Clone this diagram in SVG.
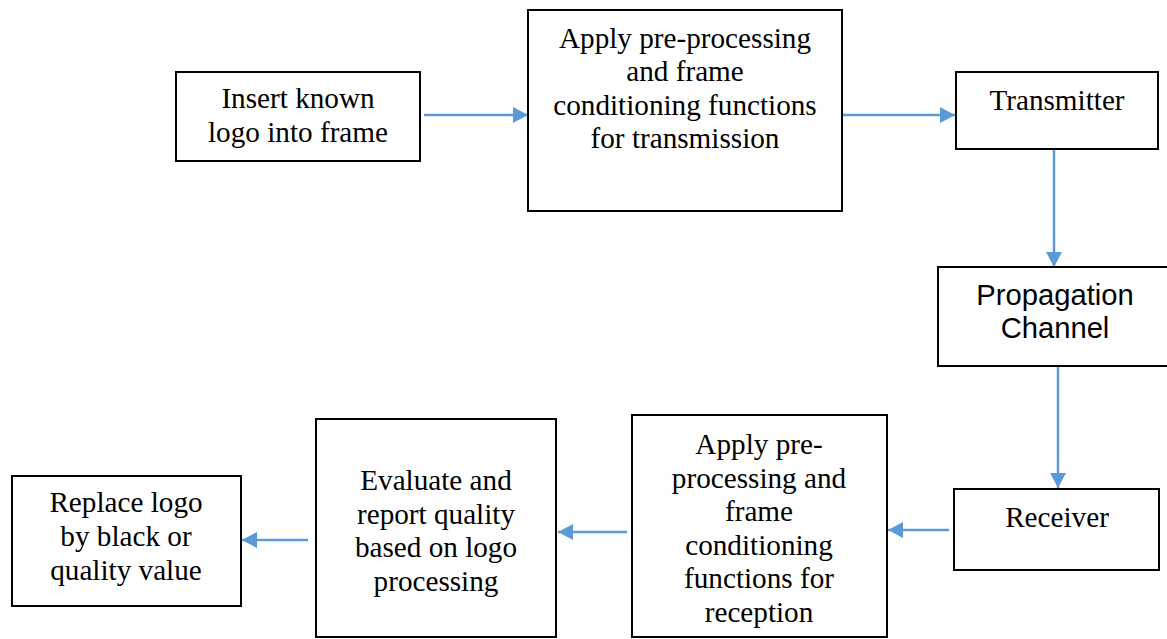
<svg xmlns="http://www.w3.org/2000/svg" width="1167" height="639" viewBox="0 0 1167 639">
<style>
.box{fill:#ffffff;stroke:#000000;stroke-width:2}
.t{font-family:"Liberation Serif","Times New Roman",serif;font-size:29.2px;fill:#000000;text-anchor:middle}
.s{font-family:"Liberation Sans",Arial,sans-serif;font-size:29.2px;fill:#000000;text-anchor:middle}
.c{stroke:#5B9BD5;stroke-width:2.5;fill:none;marker-end:url(#ah)}
</style>
<defs>
<marker id="ah" markerUnits="userSpaceOnUse" markerWidth="16" markerHeight="16" refX="15" refY="8" orient="auto">
<path d="M0,0 L15,8 L0,16 Z" fill="#5B9BD5"/>
</marker>
</defs>
<rect width="1167" height="639" fill="#ffffff"/>
<g id="connectors">
<line class="c" x1="424" y1="115" x2="528" y2="115"/>
<line class="c" x1="843" y1="115" x2="955" y2="115"/>
<line class="c" x1="1054" y1="150" x2="1054" y2="267"/>
<line class="c" x1="1058" y1="367" x2="1058" y2="488"/>
<line class="c" x1="949" y1="530" x2="888" y2="530"/>
<line class="c" x1="627" y1="532" x2="558" y2="532"/>
<line class="c" x1="308" y1="540" x2="242" y2="540"/>
</g>
<g id="n1">
<rect class="box" x="176" y="72" width="244" height="89"/>
<text class="t" x="298" y="108">Insert known</text>
<text class="t" x="298" y="142">logo into frame</text>
</g>
<g id="n2">
<rect class="box" x="528" y="10" width="314" height="201"/>
<text class="t" x="685" y="48">Apply pre-processing</text>
<text class="t" x="685" y="81">and frame</text>
<text class="t" x="685" y="114.5">conditioning functions</text>
<text class="t" x="685" y="148">for transmission</text>
</g>
<g id="n3">
<rect class="box" x="956" y="72" width="202" height="77"/>
<text class="t" x="1057" y="110">Transmitter</text>
</g>
<g id="n4">
<rect class="box" x="938" y="267" width="236" height="99"/>
<text class="s" x="1055" y="305">Propagation</text>
<text class="s" x="1055" y="338">Channel</text>
</g>
<g id="n5">
<rect class="box" x="954" y="489" width="205" height="81"/>
<text class="t" x="1057" y="527">Receiver</text>
</g>
<g id="n6">
<rect class="box" x="632" y="415" width="255" height="222"/>
<text class="t" x="759" y="454">Apply pre-</text>
<text class="t" x="759" y="487.5">processing and</text>
<text class="t" x="759" y="521">frame</text>
<text class="t" x="759" y="555">conditioning</text>
<text class="t" x="759" y="588">functions for</text>
<text class="t" x="759" y="622">reception</text>
</g>
<g id="n7">
<rect class="box" x="316" y="419" width="240" height="218"/>
<text class="t" x="436" y="490">Evaluate and</text>
<text class="t" x="436" y="524">report quality</text>
<text class="t" x="436" y="557">based on logo</text>
<text class="t" x="436" y="591">processing</text>
</g>
<g id="n8">
<rect class="box" x="12" y="476" width="229" height="130"/>
<text class="t" x="126" y="512">Replace logo</text>
<text class="t" x="126" y="546">by black or</text>
<text class="t" x="126" y="580">quality value</text>
</g>
</svg>
